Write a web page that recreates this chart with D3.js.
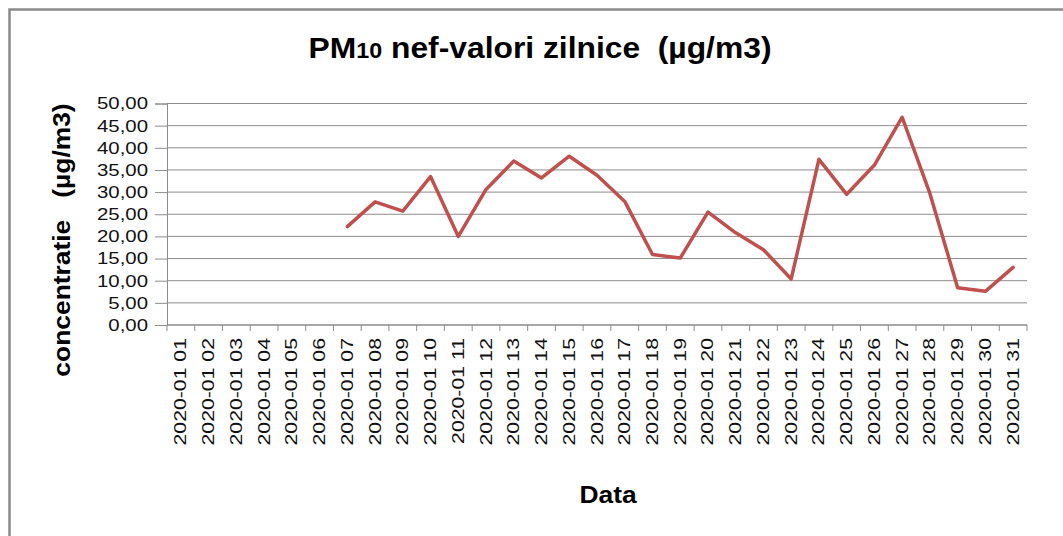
<!DOCTYPE html>
<html>
<head>
<meta charset="utf-8">
<script src="https://cdn.jsdelivr.net/npm/d3@7"></script>
<style>
  body { margin: 0; background: #fff; }
  svg text { font-family: "Liberation Sans", Arial, sans-serif; white-space: pre; }
</style>
</head>
<body>
<svg id="chart" width="1063" height="536"></svg>
<script>
// daily PM10 values, January 2020 (null = no measurement)
const days = d3.range(1, 32).map(d => '2020-01 ' + String(d).padStart(2, '0'));
const pm10 = [null, null, null, null, null, null,
  22.2, 27.8, 25.7, 33.5, 20.0, 30.6, 37.0, 33.2, 38.1, 33.8, 27.9,
  15.9, 15.1, 25.5, 20.8, 17.0, 10.4, 37.4, 29.5, 36.1, 46.9, 29.7,
  8.4, 7.6, 13.0];
const yTicks = d3.range(0, 50.01, 5);

const W = 1063, H = 536;
const margin = { top: 103.5, right: 36, bottom: 211, left: 167 };
const iW = W - margin.left - margin.right;
const iH = H - margin.top - margin.bottom;

const svg = d3.select('#chart');

// outer chart frame (runs off the right/bottom of the photo)
svg.append('rect').attr('x', 9.5).attr('y', 9.5).attr('width', 1100).attr('height', 600)
  .attr('fill', 'none').attr('stroke', '#8a8a8a').attr('stroke-width', 2.5);

const g = svg.append('g').attr('transform', `translate(${margin.left},${margin.top})`);

const x = d3.scaleBand().domain(days).range([0, iW]);
const y = d3.scaleLinear().domain([0, 50]).range([iH, 0]);

// gridlines
g.selectAll('.grid').data(yTicks).join('line')
  .attr('x1', 0).attr('x2', iW).attr('y1', d => y(d)).attr('y2', d => y(d))
  .attr('stroke', '#8c8c8c').attr('stroke-width', 1);

// y axis
const yAxis = g.append('g').call(d3.axisLeft(y).tickValues(yTicks).tickSize(12).tickPadding(6)
  .tickFormat(d => d3.format('.2f')(d).replace('.', ',')));
yAxis.select('.domain').attr('stroke', '#8c8c8c');
yAxis.selectAll('.tick line').attr('stroke', '#8c8c8c');
yAxis.selectAll('.tick text').attr('font-size', '17px').attr('fill', '#111')
  .attr('font-family', '"Liberation Sans", Arial, sans-serif')
  .attr('x', 0).attr('transform', 'translate(-19,0) scale(1.2,1)');

// x axis: ticks on category boundaries
const xa = g.append('g').attr('transform', `translate(0,${iH})`);
xa.append('line').attr('x1', 0).attr('x2', iW).attr('stroke', '#8c8c8c');
xa.selectAll('.bt').data(d3.range(days.length + 1)).join('line')
  .attr('x1', i => i * x.step()).attr('x2', i => i * x.step())
  .attr('y1', 0).attr('y2', 6).attr('stroke', '#8c8c8c');
xa.selectAll('.xl').data(days).join('text')
  .attr('transform', d => `translate(${x(d) + x.bandwidth() / 2 + 5.5},13) rotate(-90) scale(1.25,1)`)
  .attr('text-anchor', 'end').attr('font-size', '17px').attr('fill', '#111')
  .text(d => d);

// series line
const line = d3.line()
  .defined(d => d.v != null)
  .x(d => x(d.day) + x.bandwidth() / 2)
  .y(d => y(d.v));
g.append('path')
  .datum(days.map((day, i) => ({ day, v: pm10[i] })))
  .attr('d', line).attr('fill', 'none')
  .attr('stroke', '#c0504d').attr('stroke-width', 3.5)
  .attr('stroke-linejoin', 'round').attr('stroke-linecap', 'round');

// title
const title = svg.append('text').attr('transform', 'translate(540,58) scale(1.06,1)')
  .attr('text-anchor', 'middle').attr('font-size', '30px').attr('font-weight', 'bold').attr('fill', '#000');
title.append('tspan').text('PM');
title.append('tspan').attr('font-size', '22px').text('10');
title.append('tspan').text(' nef-valori zilnice  (µg/m3)');

// axis titles
svg.append('text')
  .attr('transform', `translate(70,240) rotate(-90) scale(1.1,1)`)
  .attr('text-anchor', 'middle').attr('font-size', '24px').attr('font-weight', 'bold')
  .text('concentratie   (µg/m3)');
svg.append('text').attr('transform', 'translate(608,503) scale(1.1,1)')
  .attr('text-anchor', 'middle').attr('font-size', '24px').attr('font-weight', 'bold')
  .text('Data');
</script>
</body>
</html>
